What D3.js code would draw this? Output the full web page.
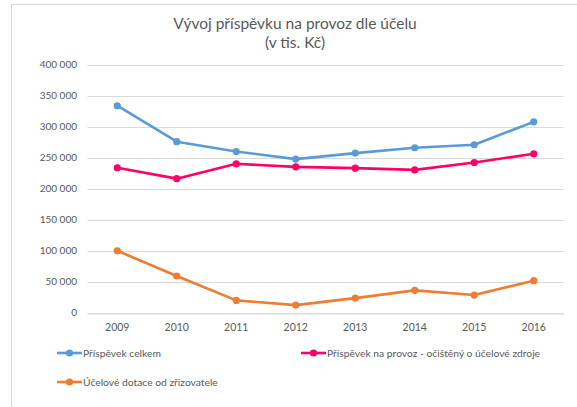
<!DOCTYPE html>
<html><head><meta charset="utf-8">
<script src="https://cdn.jsdelivr.net/npm/d3@7"></script>
<style>body{margin:0;background:#fff}svg{display:block}text{font-family:Lato,"Open Sans",sans-serif}</style>
</head><body>
<svg id="c" width="577" height="407"></svg>
<script>
const years = ["2009","2010","2011","2012","2013","2014","2015","2016"];
const celkem = [333500, 275500, 259700, 247400, 257100, 265700, 270600, 307500];
const ocisteny = [233500, 215900, 239800, 234900, 232800, 230000, 241900, 256000];
const ucelove = [99500, 58900, 19500, 11900, 23200, 35700, 28100, 51300];
const yTicks = [0, 50000, 100000, 150000, 200000, 250000, 300000, 350000, 400000];
const seriesNames = ["Příspěvek celkem", "Příspěvek na provoz - očištěný o účelové zdroje", "Účelové dotace od zřizovatele"];
const colors = ["#5B9BD5", "#FF0066", "#ED7D31"];
const titleLines = ["Vývoj příspěvku na provoz dle účelu", "(v tis. Kč)"];

const series = [celkem, ocisteny, ucelove].map((v,i)=>({name:seriesNames[i], values:v, color:colors[i]}));
const svg = d3.select("#c");
const grey = "#595959";

// border
svg.append("rect").attr("x",11.5).attr("y",4.5).attr("width",600).attr("height",420)
  .attr("fill","#fff").attr("stroke","#d9d9d9").attr("stroke-width",1);

// title
svg.append("text").attr("x",295).attr("y",29).attr("text-anchor","middle")
  .attr("font-size",15.5).attr("fill",grey).text(titleLines[0]);
svg.append("text").attr("x",295).attr("y",47.5).attr("text-anchor","middle")
  .attr("font-size",15.5).attr("fill",grey).text(titleLines[1]);

const x = d3.scaleBand().domain(years).range([87.5,563.5]);
const y = d3.scaleLinear().domain([0,400000]).range([312.5,64.5]);
const fmt = v => d3.format(",")(v).replace(/,/g," ");

// gridlines
svg.append("g").selectAll("line").data(yTicks).join("line")
  .attr("x1",87.5).attr("x2",563.5)
  .attr("y1",d=>Math.round(y(d))+0.5).attr("y2",d=>Math.round(y(d))+0.5)
  .attr("stroke","#d9d9d9").attr("stroke-width",1);

// y axis labels
const ya = svg.append("g").attr("transform","translate(87,0)")
  .call(d3.axisLeft(y).tickValues(yTicks).tickFormat(fmt).tickSize(0).tickPadding(10));
ya.select(".domain").remove();
ya.selectAll("text").attr("fill",grey).attr("font-size",10).attr("font-family","Lato, sans-serif");

// x axis
const xa = svg.append("g").attr("transform",`translate(0,${Math.round(y(0))+0.5})`)
  .call(d3.axisBottom(x).tickSize(0).tickPadding(10));
xa.select(".domain").attr("stroke","#d9d9d9");
xa.selectAll("text").attr("fill",grey).attr("font-size",10.5).attr("font-family","Lato, sans-serif");

const line = d3.line().x((d,i)=>x(years[i])+x.bandwidth()/2).y(d=>y(d));
series.forEach(s=>{
  svg.append("path").attr("d",line(s.values)).attr("fill","none")
    .attr("stroke",s.color).attr("stroke-width",2.6).attr("stroke-linejoin","round").attr("stroke-linecap","round");
  svg.append("g").selectAll("circle").data(s.values).join("circle")
    .attr("cx",(d,i)=>x(years[i])+x.bandwidth()/2).attr("cy",d=>y(d)).attr("r",3.6).attr("fill",s.color);
});

// legend
const legPos = [[57,353],[301,353],[57,382]];
series.forEach((s,i)=>{
  const [lx,ly] = legPos[i];
  const g = svg.append("g").attr("transform",`translate(${lx},${ly})`);
  g.append("line").attr("x1",0).attr("x2",25).attr("y1",0).attr("y2",0).attr("stroke",s.color).attr("stroke-width",2.6);
  g.append("circle").attr("cx",12.5).attr("cy",0).attr("r",3.6).attr("fill",s.color);
  g.append("text").attr("x",26).attr("y",3.6).attr("font-size",10.3).attr("fill",grey).text(s.name);
});
</script>
</body></html>
